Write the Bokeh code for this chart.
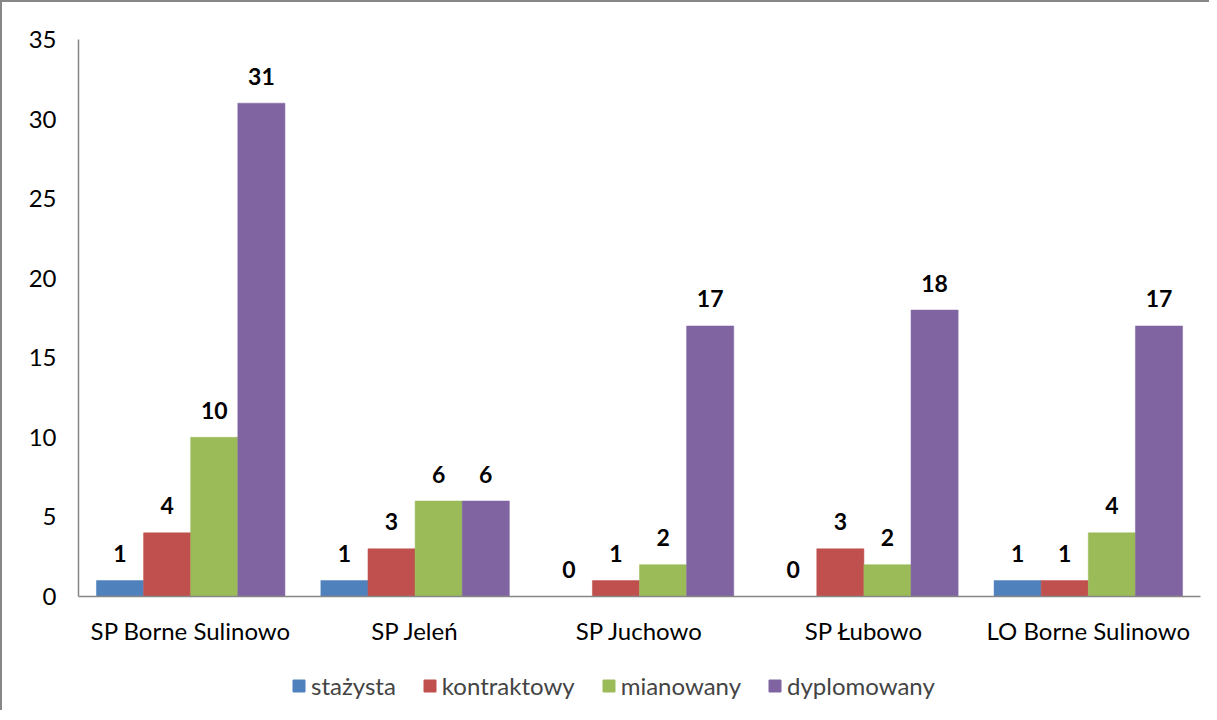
from bokeh.plotting import figure
from bokeh.models import ColumnDataSource, FactorRange, SingleIntervalTicker, Legend, LegendItem
from bokeh.layouts import column
from bokeh.transform import dodge
from bokeh.core.properties import value
from bokeh.embed import file_html
from bokeh.resources import INLINE

schools = ["SP Borne Sulinowo", "SP Jeleń", "SP Juchowo", "SP Łubowo", "LO Borne Sulinowo"]
series = ["stażysta", "kontraktowy", "mianowany", "dyplomowany"]
stazysta = [1, 1, 0, 0, 1]
kontraktowy = [4, 3, 1, 3, 1]
mianowany = [10, 6, 2, 2, 4]
dyplomowany = [31, 6, 17, 18, 17]
colors = ["#4F81BD", "#C0504D", "#9BBB59", "#8064A2"]

values = [stazysta, kontraktowy, mianowany, dyplomowany]
FONT = "Lato"

p = figure(
    x_range=FactorRange(*schools, range_padding=0),
    y_range=(0, 35),
    frame_width=1122, frame_height=557,
    output_backend="svg", toolbar_location=None,
    min_border_left=76, min_border_top=37, min_border_right=9, min_border_bottom=58,
)
p.outline_line_color = None
p.xgrid.grid_line_color = None
p.ygrid.grid_line_color = None

bw = 0.21
offsets = [-1.5 * bw, -0.5 * bw, 0.5 * bw, 1.5 * bw]
for name, vals, col, off in zip(series, values, colors, offsets):
    src = ColumnDataSource(dict(x=schools, y=vals, lbl=[str(v) for v in vals]))
    p.vbar(x=dodge("x", off, range=p.x_range), top="y", width=bw, source=src,
           fill_color=col, line_color=col, line_width=0.5)
    p.text(x=dodge("x", off, range=p.x_range), y="y", text="lbl", source=src,
           y_offset=-27, text_align="center", text_baseline="alphabetic",
           text_font=value(FONT), text_font_style="bold", text_font_size="23px",
           text_color="black")

p.yaxis.ticker = SingleIntervalTicker(interval=5)
for ax in (p.xaxis[0], p.yaxis[0]):
    ax.axis_line_color = "#868686"
    ax.axis_line_width = 1.5
    ax.major_tick_line_color = None
    ax.minor_tick_line_color = None
    ax.major_label_text_font = FONT
    ax.major_label_text_font_size = "24px"
    ax.major_label_text_color = "black"
p.yaxis.major_label_standoff = 16
p.xaxis.major_label_standoff = 13

# legend strip below the chart
lg = figure(width=1207, height=56, x_range=(0, 1), y_range=(0, 1),
            output_backend="svg", toolbar_location=None, min_border=0)
lg.axis.visible = False
lg.grid.visible = False
lg.outline_line_color = None
items = []
for name, col in zip(series, colors):
    r = lg.vbar(x=[0.5], top=[-5], bottom=[-6], width=0.1, fill_color=col, line_color=col)
    items.append(LegendItem(label=name, renderers=[r]))
legend = Legend(items=items, orientation="horizontal", location=(213, 10),
                label_text_font=FONT, label_text_font_size="24px",
                glyph_width=15, glyph_height=15, spacing=26, label_standoff=5,
                border_line_color=None, background_fill_alpha=0, padding=0, margin=0)
lg.add_layout(legend, "center")

layout = column(p, lg, spacing=0)
layout.styles = {"border-left": "2px solid #878787", "border-top": "2px solid #878787"}

open("out.html", "w").write(file_html(layout, INLINE))
